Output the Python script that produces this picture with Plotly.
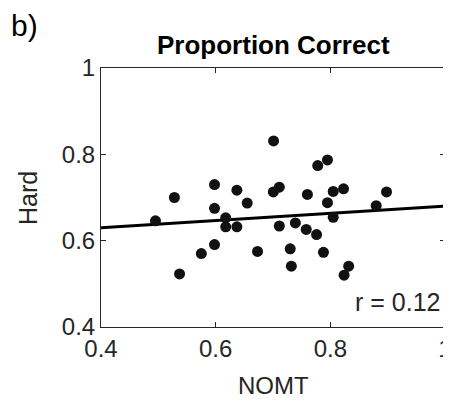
import plotly.graph_objects as go

nomt = [0.495, 0.528, 0.537, 0.575, 0.598, 0.598, 0.598, 0.6175, 0.6175, 0.637, 0.637, 0.655, 0.673,
        0.701, 0.7006, 0.711, 0.711, 0.730, 0.732, 0.739, 0.758, 0.760, 0.776, 0.778, 0.795,
        0.788, 0.795, 0.805, 0.805, 0.823, 0.824, 0.832, 0.880, 0.898]
hard = [0.646, 0.700, 0.523, 0.570, 0.591, 0.675, 0.730, 0.653, 0.632, 0.632, 0.717, 0.687, 0.575,
        0.831, 0.713, 0.724, 0.634, 0.581, 0.541, 0.641, 0.626, 0.707, 0.614, 0.774, 0.787,
        0.573, 0.688, 0.714, 0.654, 0.720, 0.520, 0.541, 0.681, 0.713]
fit_x = [0.4, 1.0]
fit_y = [0.630, 0.680]
x_ticks = [0.4, 0.6, 0.8, 1.0]
x_ticktext = ["0.4", "0.6", "0.8", "1"]
y_ticks = [0.4, 0.6, 0.8, 1.0]
y_ticktext = ["0.4", "0.6", "0.8", "1"]

FONT = "Liberation Sans, Arial, Helvetica, sans-serif"
TXT = "#262626"

# page body has an 8px default margin; plot area targeted at page x 101-445, y 68-327
PX0, PX1, PY0, PY1 = 101, 445, 327, 68
W, H = PX1 - PX0, PY0 - PY1


def px(x):
    return (x - PX0) / W


def py(y):
    return (PY0 - y) / H


fig = go.Figure()
fig.add_trace(go.Scatter(x=fit_x, y=fit_y, mode="lines",
                         line=dict(color="black", width=3), showlegend=False))
fig.add_trace(go.Scatter(x=nomt, y=hard, mode="markers",
                         marker=dict(color="#111111", size=11, line=dict(width=0)),
                         showlegend=False))

axis_common = dict(showline=True, linecolor=TXT, linewidth=1, mirror="ticks",
                   ticks="inside", ticklen=5, tickcolor=TXT, showgrid=False,
                   zeroline=False, automargin=False, ticklabeloverflow="allow",
                   tickfont=dict(family=FONT, size=24, color=TXT))
fig.update_xaxes(range=[0.4, 1.0], tickvals=x_ticks, ticktext=x_ticktext, **axis_common)
fig.update_yaxes(range=[0.4, 1.0], tickvals=y_ticks, ticktext=y_ticktext, **axis_common)

fig.update_layout(
    width=451, height=405,
    margin=dict(l=93, r=14, t=60, b=86),
    plot_bgcolor="white", paper_bgcolor="white",
    font=dict(family=FONT, color=TXT),
    annotations=[
        dict(text="<b>Proportion Correct</b>", xref="paper", yref="paper",
             x=px(273), y=py(45), xanchor="center", yanchor="middle",
             showarrow=False, font=dict(size=26, color="black", family=FONT)),
        dict(text="b)", xref="paper", yref="paper",
             x=px(9), y=py(25), xanchor="left", yanchor="middle",
             showarrow=False, font=dict(size=30, color="black", family=FONT)),
        dict(text="NOMT", xref="paper", yref="paper",
             x=px(273), y=py(385), xanchor="center", yanchor="middle",
             showarrow=False, font=dict(size=24, color=TXT, family=FONT)),
        dict(text="Hard", xref="paper", yref="paper", textangle=-90,
             x=px(28), y=py(198), xanchor="center", yanchor="middle",
             showarrow=False, font=dict(size=25, color=TXT, family=FONT)),
        dict(text="r = 0.12", xref="paper", yref="paper",
             x=px(442), y=py(302), xanchor="right", yanchor="middle",
             showarrow=False, font=dict(size=25, color=TXT, family=FONT)),
    ],
)

fig.write_html("out.html")
